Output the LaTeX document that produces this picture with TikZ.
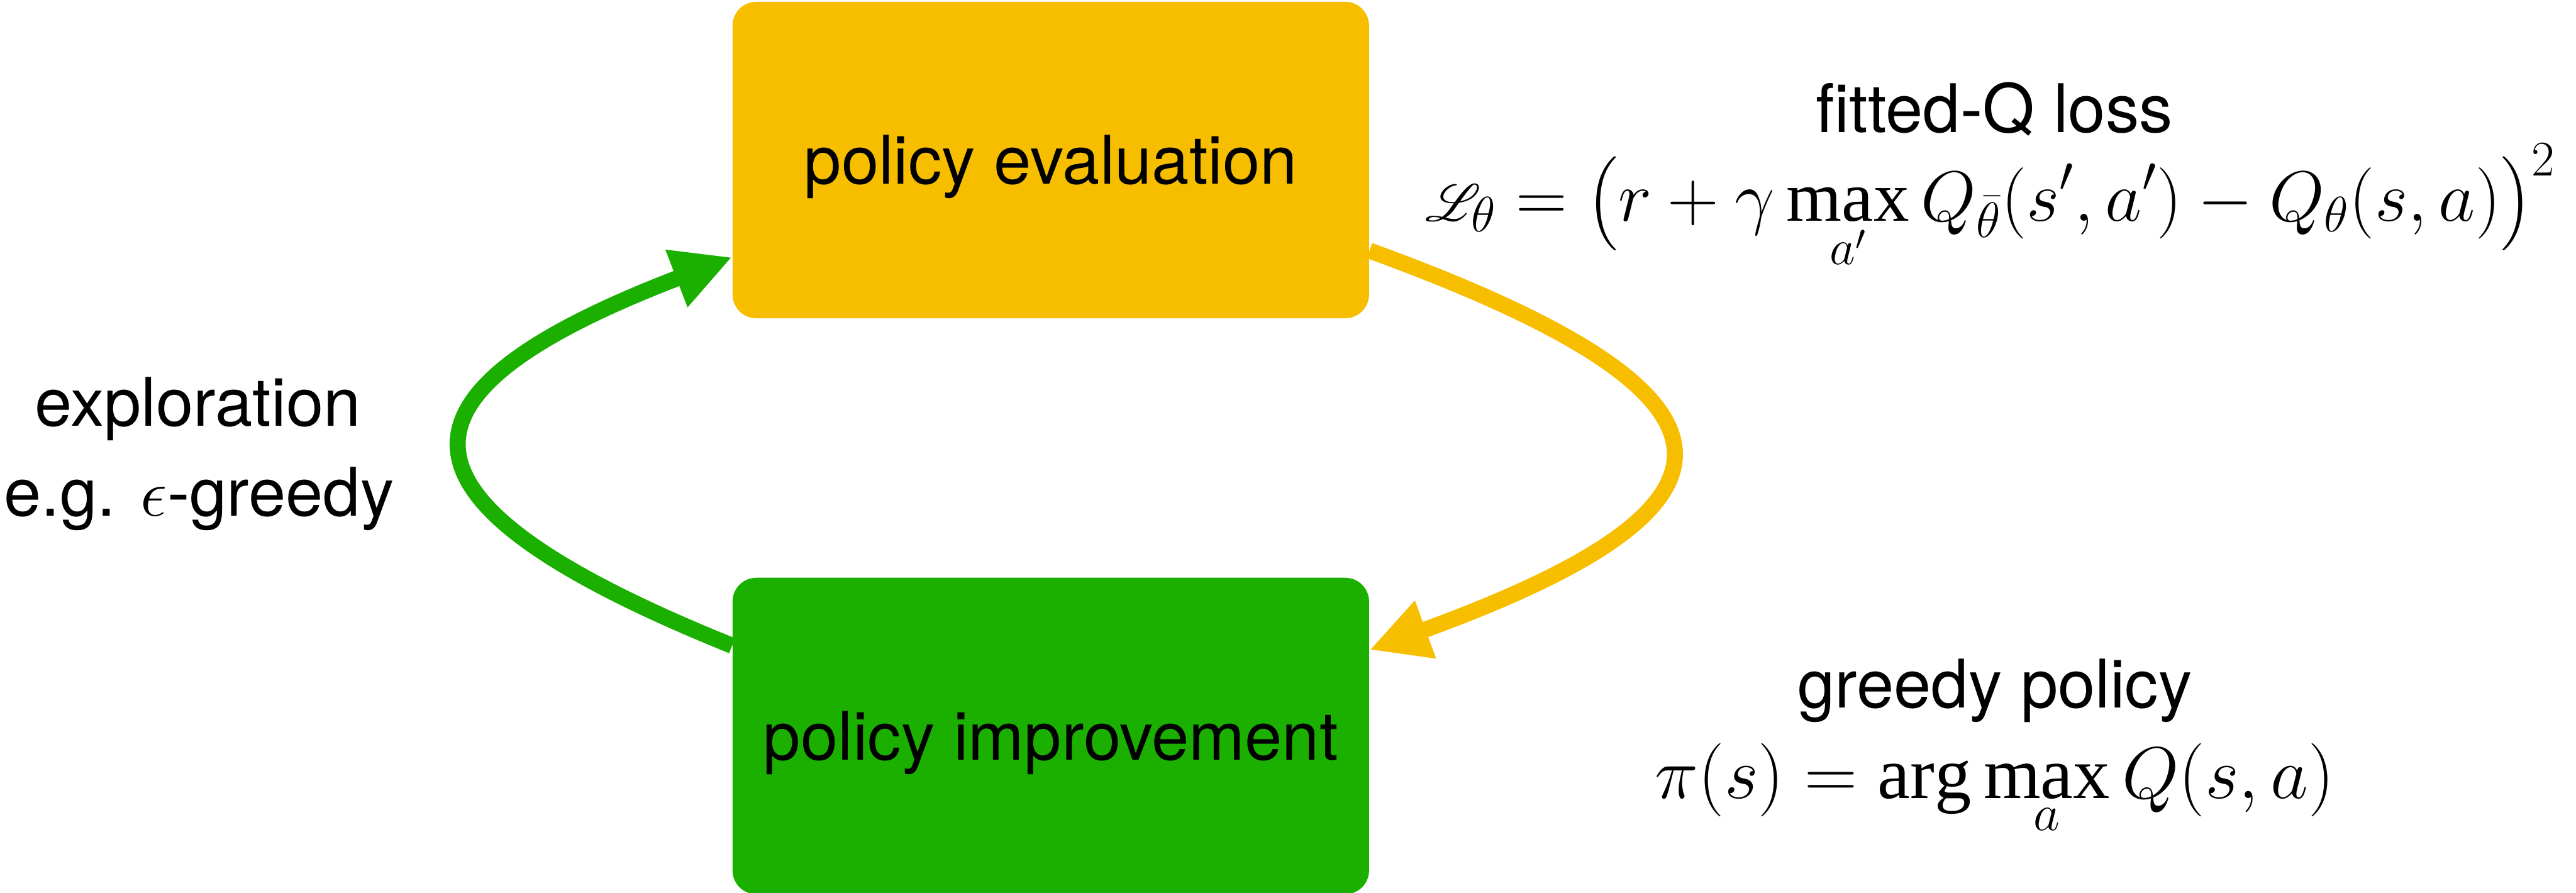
\RequirePackage{fix-cm}
\documentclass[tikz,border=0pt]{standalone}
\usepackage{amsmath}
\usepackage{mathrsfs}
\usepackage{fontspec}
\setmainfont{Liberation Serif}
\newfontfamily\heros{TeX Gyre Heros}
\usetikzlibrary{positioning,arrows.meta}
\definecolor{evalyellow}{RGB}{247,190,0}
\definecolor{imprgreen}{RGB}{27,176,0}

\begin{document}
\begin{tikzpicture}[
        box/.style={rounded corners=0.4cm,minimum width=10.68cm,minimum height=5.31cm,text height=0.9cm,text depth=0.1cm,font=\heros\fontsize{32}{38}\selectfont},
        lbl/.style={anchor=base,font=\heros\fontsize{32}{38}\selectfont},
        eq/.style={anchor=base,font=\fontsize{35}{42}\selectfont},
        loop/.style={line width=0.27cm,-{Triangle[length=1cm,width=0.96cm]}}]
        \useasboundingbox(0,0)rectangle(43.22,-14.98);

        \node[box,fill=evalyellow](pe)at(17.63,-2.685){policy evaluation};
        \node[box,fill=imprgreen,below=4.34cm of pe](pi){policy improvement};

        \node[lbl](lossname)at(33.46,-2.22){fitted-Q loss};
        \node[eq,font=\fontsize{34}{41}\selectfont](loss)at(33.40,-3.71){$\displaystyle\mathscr{L}_\theta=\big(r+\gamma\max_{a'}Q_{\bar\theta}(s',a')-Q_\theta(s,a)\big)^2$};

        \node[lbl](greedyname)at(33.47,-11.88){greedy policy};
        \node[eq](greedy)at(33.47,-13.40){$\displaystyle\pi(s)=\arg\max_{a}Q(s,a)$};

        \node[lbl](expl)at(3.32,-7.15){exploration};
        \node[lbl](egreedy)at(3.34,-8.66){e.g. $\epsilon$-greedy};

        \draw[loop,evalyellow]([yshift=-1.52cm]pe.east)to[out=-20,in=20,looseness=2.72]([yshift=1.445cm]pi.east);
        \draw[loop,imprgreen]([yshift=1.515cm]pi.west)to[out=158,in=201,looseness=2.53]([yshift=-1.63cm]pe.west);
    \end{tikzpicture}
\end{document}
